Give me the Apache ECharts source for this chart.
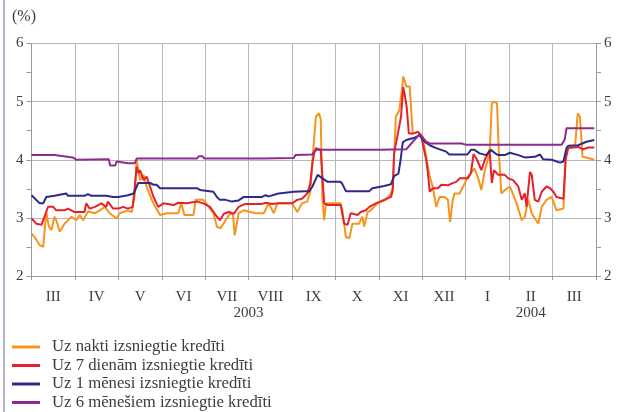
<!DOCTYPE html>
<html>
<head>
<meta charset="utf-8">
<script src="https://cdn.jsdelivr.net/npm/echarts@6/dist/echarts.min.js"></script>
<style>
html, body { margin: 0; padding: 0; background: #fff; }
#main { width: 617px; height: 412px; }
</style>
</head>
<body>
<div id="main"></div>
<script>
// x = months since 1 March 2003 (0..13), y = %
var months = ['III', 'IV', 'V', 'VI', 'VII', 'VIII', 'IX', 'X', 'XI', 'XII', 'I', 'II', 'III'];
var years = [['2003', 5], ['2004', 11.5]];
var yTicks = [2, 3, 4, 5, 6];

var seriesNames = [
	'Uz nakti izsniegtie kredīti',
	'Uz 7 dienām izsniegtie kredīti',
	'Uz 1 mēnesi izsniegtie kredīti',
	'Uz 6 mēnešiem izsniegtie kredīti'
];
var seriesColors = ['#f7941d', '#e5222b', '#2d2a8a', '#8c2b90'];

var overnight = [
	[0.00, 2.73], [0.07, 2.67], [0.19, 2.53], [0.27, 2.50], [0.34, 3.10], [0.40, 2.85], [0.46, 2.79],
	[0.53, 3.02], [0.57, 2.96], [0.65, 2.76], [0.76, 2.90], [0.92, 3.02], [1.03, 2.96], [1.11, 3.05],
	[1.19, 2.96], [1.30, 3.11], [1.46, 3.08], [1.57, 3.13], [1.69, 3.19], [1.80, 3.08], [1.96, 2.99],
	[2.03, 3.08], [2.22, 3.13], [2.31, 3.10], [2.38, 3.40], [2.42, 4.00], [2.50, 3.65], [2.58, 3.74],
	[2.65, 3.54], [2.77, 3.31], [2.85, 3.19], [2.96, 3.05], [3.12, 3.08], [3.38, 3.08], [3.45, 3.25],
	[3.52, 3.05], [3.73, 3.05], [3.78, 3.31], [3.96, 3.31], [4.08, 3.19], [4.19, 3.08], [4.27, 2.85],
	[4.35, 2.82], [4.47, 2.96], [4.58, 3.08], [4.64, 3.05], [4.68, 2.70], [4.72, 2.70], [4.77, 3.08],
	[4.89, 3.13], [5.16, 3.08], [5.35, 3.08], [5.46, 3.25], [5.58, 3.08], [5.66, 3.25], [6.00, 3.25],
	[6.12, 3.10], [6.23, 3.25], [6.35, 3.28], [6.42, 3.45], [6.47, 4.00], [6.55, 4.74], [6.62, 4.80],
	[6.66, 4.70], [6.70, 3.31], [6.74, 2.96], [6.78, 3.25], [7.12, 3.25], [7.16, 3.13], [7.24, 2.67],
	[7.32, 2.65], [7.39, 2.90], [7.54, 2.90], [7.62, 3.02], [7.66, 2.85], [7.74, 3.10], [7.81, 3.13],
	[7.97, 3.25], [8.16, 3.31], [8.28, 3.42], [8.32, 3.54], [8.39, 4.74], [8.47, 4.85], [8.53, 5.20],
	[8.56, 5.43], [8.60, 5.35], [8.63, 5.26], [8.71, 5.26], [8.78, 4.45], [8.90, 4.48], [9.01, 4.40],
	[9.09, 4.05], [9.17, 3.71], [9.24, 3.54], [9.32, 3.19], [9.40, 3.36], [9.51, 3.36], [9.59, 3.31],
	[9.64, 2.93], [9.70, 3.30], [9.74, 3.42], [9.86, 3.42], [9.94, 3.54], [10.05, 3.71], [10.12, 3.77],
	[10.20, 3.85], [10.28, 3.70], [10.36, 3.48], [10.44, 3.82], [10.55, 4.11], [10.60, 4.97],
	[10.66, 5.00], [10.72, 4.97], [10.76, 4.17], [10.82, 3.42], [10.90, 3.48], [11.02, 3.54],
	[11.17, 3.25], [11.29, 2.96], [11.36, 3.02], [11.44, 3.31], [11.52, 3.08], [11.67, 2.90],
	[11.75, 3.19], [11.86, 3.31], [11.98, 3.36], [12.09, 3.13], [12.25, 3.16], [12.30, 4.00],
	[12.32, 4.17], [12.40, 4.22], [12.52, 4.25], [12.58, 4.80], [12.63, 4.74], [12.69, 4.05],
	[12.82, 4.03], [12.96, 4.00]
];

var sevenDay = [
	[0.00, 2.99], [0.11, 2.90], [0.23, 2.88], [0.30, 3.02], [0.38, 3.19], [0.50, 3.19], [0.57, 3.13],
	[0.76, 3.13], [0.84, 3.16], [0.99, 3.10], [1.22, 3.10], [1.26, 3.25], [1.34, 3.16], [1.46, 3.19],
	[1.61, 3.25], [1.72, 3.19], [1.76, 3.28], [1.88, 3.16], [2.00, 3.16], [2.11, 3.19], [2.22, 3.16],
	[2.33, 3.19], [2.38, 3.54], [2.42, 3.88], [2.46, 3.77], [2.50, 3.82], [2.58, 3.65], [2.65, 3.71],
	[2.73, 3.54], [2.81, 3.36], [2.88, 3.25], [2.92, 3.19], [3.04, 3.25], [3.27, 3.22], [3.38, 3.26],
	[3.58, 3.25], [3.81, 3.28], [3.96, 3.25], [4.11, 3.19], [4.27, 3.02], [4.34, 2.96], [4.43, 3.07],
	[4.54, 3.10], [4.66, 3.07], [4.77, 3.19], [4.92, 3.24], [5.31, 3.24], [5.39, 3.26], [5.54, 3.24],
	[5.69, 3.25], [6.00, 3.25], [6.12, 3.31], [6.23, 3.33], [6.35, 3.42], [6.42, 3.59], [6.47, 3.95],
	[6.51, 4.11], [6.55, 4.20], [6.66, 4.17], [6.74, 3.25], [6.82, 3.22], [7.12, 3.22], [7.16, 3.19],
	[7.20, 2.90], [7.28, 2.88], [7.35, 3.08], [7.51, 3.05], [7.58, 3.10], [7.70, 3.13], [7.78, 3.19],
	[7.93, 3.25], [8.12, 3.31], [8.28, 3.36], [8.32, 3.48], [8.35, 4.11], [8.45, 4.50], [8.51, 4.74],
	[8.56, 5.25], [8.60, 5.10], [8.64, 4.91], [8.69, 4.45], [8.78, 4.45], [8.90, 4.48], [8.97, 4.42],
	[9.09, 4.00], [9.13, 3.77], [9.17, 3.45], [9.24, 3.51], [9.36, 3.51], [9.44, 3.57], [9.59, 3.56],
	[9.67, 3.59], [9.78, 3.62], [9.86, 3.68], [10.05, 3.68], [10.12, 3.77], [10.18, 4.10], [10.26, 4.00],
	[10.36, 3.82], [10.44, 4.00], [10.55, 4.17], [10.60, 3.60], [10.65, 3.82], [10.75, 3.74],
	[10.90, 3.74], [10.98, 3.68], [11.09, 3.65], [11.21, 3.54], [11.29, 3.31], [11.36, 3.42],
	[11.40, 3.19], [11.48, 3.79], [11.52, 3.74], [11.59, 3.31], [11.67, 3.28], [11.75, 3.45],
	[11.86, 3.54], [11.94, 3.51], [12.02, 3.45], [12.09, 3.36], [12.25, 3.33], [12.30, 4.00],
	[12.36, 4.20], [12.59, 4.22], [12.70, 4.18], [12.82, 4.21], [12.96, 4.21]
];

var oneMonth = [
	[0.00, 3.39], [0.19, 3.25], [0.27, 3.25], [0.34, 3.36], [0.53, 3.38], [0.80, 3.42], [0.84, 3.38],
	[1.22, 3.38], [1.30, 3.41], [1.38, 3.38], [1.72, 3.38], [1.76, 3.41], [1.88, 3.36], [2.00, 3.36],
	[2.22, 3.39], [2.35, 3.42], [2.38, 3.45], [2.46, 3.60], [2.73, 3.60], [2.81, 3.57], [2.88, 3.57],
	[2.96, 3.51], [3.81, 3.51], [3.88, 3.48], [4.19, 3.45], [4.27, 3.36], [4.34, 3.31], [4.47, 3.31],
	[4.62, 3.28], [4.77, 3.30], [4.89, 3.36], [5.31, 3.36], [5.39, 3.39], [5.46, 3.37], [5.69, 3.42],
	[6.04, 3.45], [6.31, 3.46], [6.39, 3.45], [6.47, 3.54], [6.59, 3.74], [6.62, 3.77], [6.70, 3.68],
	[6.82, 3.62], [7.12, 3.62], [7.16, 3.58], [7.24, 3.46], [7.78, 3.46], [7.85, 3.51], [8.12, 3.55],
	[8.28, 3.58], [8.35, 3.72], [8.45, 3.76], [8.50, 4.00], [8.55, 4.30], [8.63, 4.34], [8.82, 4.38],
	[8.94, 4.42], [9.05, 4.31], [9.17, 4.25], [9.32, 4.20], [9.55, 4.14], [9.62, 4.09], [10.04, 4.09],
	[10.12, 4.17], [10.20, 4.17], [10.32, 4.11], [10.47, 4.08], [10.58, 4.17], [10.70, 4.10],
	[10.75, 4.08], [10.90, 4.08], [11.02, 4.12], [11.21, 4.08], [11.36, 4.04], [11.59, 4.05],
	[11.71, 4.09], [11.78, 4.01], [11.98, 4.00], [12.17, 3.95], [12.25, 3.97], [12.32, 4.20],
	[12.36, 4.24], [12.59, 4.25], [12.78, 4.31], [12.96, 4.34]
];

var sixMonth = [
	[0.00, 4.08], [0.53, 4.08], [0.57, 4.05], [0.95, 4.04], [1.03, 4.00], [1.78, 4.01], [1.81, 3.90],
	[1.93, 3.90], [1.96, 3.97], [2.22, 3.94], [2.38, 3.94], [2.42, 4.02], [3.81, 4.02], [3.85, 4.06],
	[3.94, 4.06], [3.98, 4.02], [5.31, 4.02], [5.35, 4.03], [6.04, 4.03], [6.08, 4.08], [6.46, 4.09],
	[6.55, 4.17], [8.01, 4.17], [8.05, 4.18], [8.63, 4.18], [8.78, 4.31], [8.94, 4.44], [9.09, 4.31],
	[9.17, 4.28], [9.90, 4.28], [10.00, 4.26], [12.21, 4.26], [12.28, 4.35], [12.32, 4.54], [12.96, 4.54]
];

var seriesData = [overnight, sevenDay, oneMonth, sixMonth];

var font = '"Liberation Serif", "DejaVu Serif", serif';
var textColor = '#3c3c3c';
var gridColor = '#b8b8b8';
var axisColor = '#9a9a9a';

var series = [];
for (var i = 0; i < seriesData.length; i++) {
	series.push({
		name: seriesNames[i],
		type: 'line',
		xAxisIndex: 0,
		data: seriesData[i],
		showSymbol: false,
		symbol: 'none',
		animation: false,
		lineStyle: { color: seriesColors[i], width: 2 },
		itemStyle: { color: seriesColors[i] }
	});
}

function yAxisOpt(pos) {
	return {
		type: 'value',
		position: pos,
		min: yTicks[0],
		max: yTicks[yTicks.length - 1],
		interval: 1,
		axisLine: { show: true, lineStyle: { color: axisColor, width: 1 } },
		axisTick: { show: true, length: 5, lineStyle: { color: axisColor } },
		minorTick: { show: true, splitNumber: 2, length: 5, lineStyle: { color: axisColor } },
		axisLabel: { color: textColor, fontFamily: font, fontSize: 15, margin: 8 },
		splitLine: { show: pos === 'left', lineStyle: { color: gridColor, width: 1 } }
	};
}

var chart = echarts.init(document.getElementById('main'), null, { renderer: 'canvas' });
chart.setOption({
	backgroundColor: '#fff',
	animation: false,
	grid: { left: 31.5, right: 21, top: 43.5, bottom: 136 },
	legend: {
		orient: 'vertical',
		left: 12,
		top: 338.5,
		padding: 0,
		itemWidth: 28,
		itemHeight: 3,
		itemGap: 1.5,
		icon: 'rect',
		data: seriesNames,
		textStyle: { color: textColor, fontFamily: font, fontSize: 16.7, lineHeight: 17, padding: [0, 0, 0, 7] }
	},
	xAxis: [{
		type: 'value',
		min: 0,
		max: months.length,
		show: false
	}, {
		type: 'category',
		data: months,
		boundaryGap: true,
		position: 'bottom',
		axisLine: { show: true, lineStyle: { color: axisColor, width: 1 } },
		axisTick: { show: true, length: 4, lineStyle: { color: axisColor } },
		axisLabel: { color: textColor, fontFamily: font, fontSize: 15, margin: 14 },
		splitLine: { show: true, lineStyle: { color: gridColor, width: 1 } }
	}],
	yAxis: [yAxisOpt('left'), yAxisOpt('right')],
	series: series
});

// year labels under the month axis and the unit label
var g = [{
	type: 'text',
	left: 12,
	top: 9,
	style: { text: '(%)', fill: textColor, font: '16px ' + font }
}, {
	type: 'line',
	shape: { x1: 4, y1: 0, x2: 4, y2: 412 },
	style: { stroke: '#9a9ac6', lineWidth: 1.5 }
}];
years.forEach(function (y) {
	var px = chart.convertToPixel({ xAxisIndex: 0 }, y[1]);
	g.push({
		type: 'text',
		x: px,
		y: 313,
		style: { text: y[0], fill: textColor, font: '15px ' + font, align: 'center', verticalAlign: 'middle' }
	});
});
chart.setOption({ graphic: g });
</script>
</body>
</html>
